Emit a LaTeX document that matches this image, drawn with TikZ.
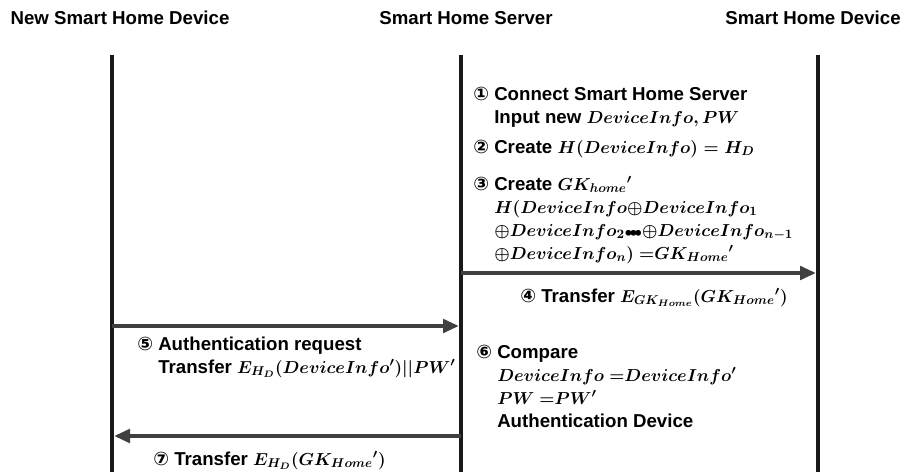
\RequirePackage{fix-cm}
\documentclass[tikz,border=0pt]{standalone}
\usepackage{fontspec}
\usepackage{amsmath}
\setmainfont{Liberation Sans}
\newfontfamily\circfont{DejaVu Sans}
\usetikzlibrary{arrows.meta}
\DeclareMathSizes{14}{13}{9.6}{7}

\newcommand{\stepno}[1]{{\circfont #1}}
\newcommand{\stepind}{\hphantom{\stepno{①}\ }}

\begin{document}
\begin{tikzpicture}[x=0.75pt, y=-0.75pt,
  head/.style={anchor=base, inner sep=0pt, font=\fontsize{14}{17}\selectfont\bfseries},
  lifeline/.style={line width=3pt, draw=black!90},
  msg/.style={line width=3pt, draw=black!75, -{Triangle[length=12pt, width=10pt]}},
  steptext/.style={anchor=base west, inner sep=0pt, font=\fontsize{14}{17.25}\selectfont\bfseries\boldmath},
  ]
 \useasboundingbox (0,0) rectangle (906,472);

 % participants
 \node [head] (nsd) at (120,24) {New Smart Home Device};
 \node [head] (shs) at (466,24) {Smart Home Server};
 \node [head] (shd) at (813,24) {Smart Home Device};

 \foreach \n/\x in {nsd/112, shs/461, shd/818} {
   \coordinate (\n-top) at (\x,55);
   \coordinate (\n-bot) at (\x,472);
   \draw [lifeline] (\n-top) -- (\n-bot);
 }

 % message ends
 \coordinate (m4-from) at (461,273);
 \coordinate (m4-to)   at (816,273);
 \coordinate (m5-from) at (112,326);
 \coordinate (m5-to)   at (459,326);
 \coordinate (m7-from) at (461,436);
 \coordinate (m7-to)   at (114,436);

 \draw [msg] (m4-from) -- (m4-to);
 \draw [msg] (m5-from) -- (m5-to);
 \draw [msg] (m7-from) -- (m7-to);

 % steps
 \node [steptext] (s1) at (473,100) {
    \begin{tabular}[t]{@{}l@{}}
    \stepno{①} Connect Smart Home Server \\
    \stepind Input new $DeviceInfo, PW$
    \end{tabular}
 };
 \node [steptext] (s2) at (473,153) {\stepno{②} Create $H(DeviceInfo) = H_D$};
 \node [steptext] (s3) at (473,190) {
    \begin{tabular}[t]{@{}l@{}}
    \stepno{③} Create $GK_{home}{}'$ \\
    \stepind $H(DeviceInfo{\oplus}DeviceInfo_1$ \\
    \stepind ${\oplus}DeviceInfo_2{\scriptstyle\bullet\!\bullet\!\bullet}{\oplus}DeviceInfo_{n-1}$ \\
    \stepind ${\oplus}DeviceInfo_n)\ {=}GK_{Home}{}'$
    \end{tabular}
 };
 \node [steptext] (s4) at (520,302) {\stepno{④} Transfer $E_{GK_{Home}}(GK_{Home}{}')$};
 \node [steptext] (s5) at (137,350) {
    \begin{tabular}[t]{@{}l@{}}
    \stepno{⑤} Authentication request \\
    \stepind Transfer $E_{H_D}(DeviceInfo'){|}{|}PW'$
    \end{tabular}
 };
 \node [steptext] (s6) at (476,358) {
    \begin{tabular}[t]{@{}l@{}}
    \stepno{⑥} Compare \\
    \stepind $DeviceInfo\ {=}DeviceInfo'$ \\
    \stepind $PW\ {=}PW'$ \\
    \stepind Authentication Device
    \end{tabular}
 };
 \node [steptext] (s7) at (153,465) {\stepno{⑦} Transfer $E_{H_D}(GK_{Home}{}')$};
\end{tikzpicture}
\end{document}
